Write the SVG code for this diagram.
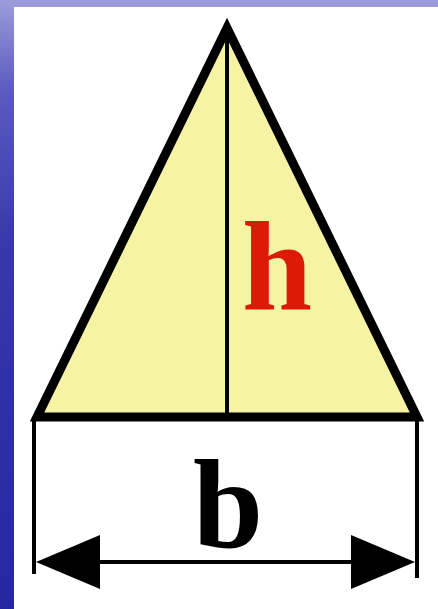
<svg xmlns="http://www.w3.org/2000/svg" width="438" height="609" viewBox="0 0 438 609">
  <defs>
    <linearGradient id="bg" x1="0" y1="0" x2="0" y2="1">
      <stop offset="0" stop-color="#9c9cdc"/>
      <stop offset="0.15" stop-color="#5a5ac0"/>
      <stop offset="0.4" stop-color="#3838aa"/>
      <stop offset="1" stop-color="#2626a0"/>
    </linearGradient>
  </defs>
  <style>
    .lbl { font-family: "Liberation Serif", "Times New Roman", serif; font-weight: bold; font-size: 126px; text-anchor: middle; }
    .ln { stroke: #000; fill: none; }
    .head { fill: #000; }
  </style>
  <g id="background">
    <rect x="0" y="0" width="438" height="609" fill="url(#bg)"/>
    <rect x="14" y="7" width="424" height="602" fill="#ffffff"/>
  </g>
  <g id="triangle">
    <polygon points="227,28 37,417 417,417" fill="#f7f3a4" stroke="#000" stroke-width="9" stroke-linejoin="miter"/>
  </g>
  <g id="connectors">
    <line class="ln" x1="227" y1="30" x2="227" y2="417" stroke-width="4"/>
    <line class="ln" x1="34" y1="417" x2="34" y2="574" stroke-width="4"/>
    <line class="ln" x1="417" y1="417" x2="417" y2="578" stroke-width="4"/>
    <line class="ln" x1="60" y1="562" x2="390" y2="562" stroke-width="4"/>
    <polygon class="head" points="36,562 100,535 100,589"/>
    <polygon class="head" points="415,562 351,535 351,589"/>
  </g>
  <g id="label-h">
    <text class="lbl" x="277" y="309" fill="#dd1a08">h</text>
  </g>
  <g id="label-b">
    <text class="lbl" x="228" y="547" fill="#000">b</text>
  </g>
</svg>
